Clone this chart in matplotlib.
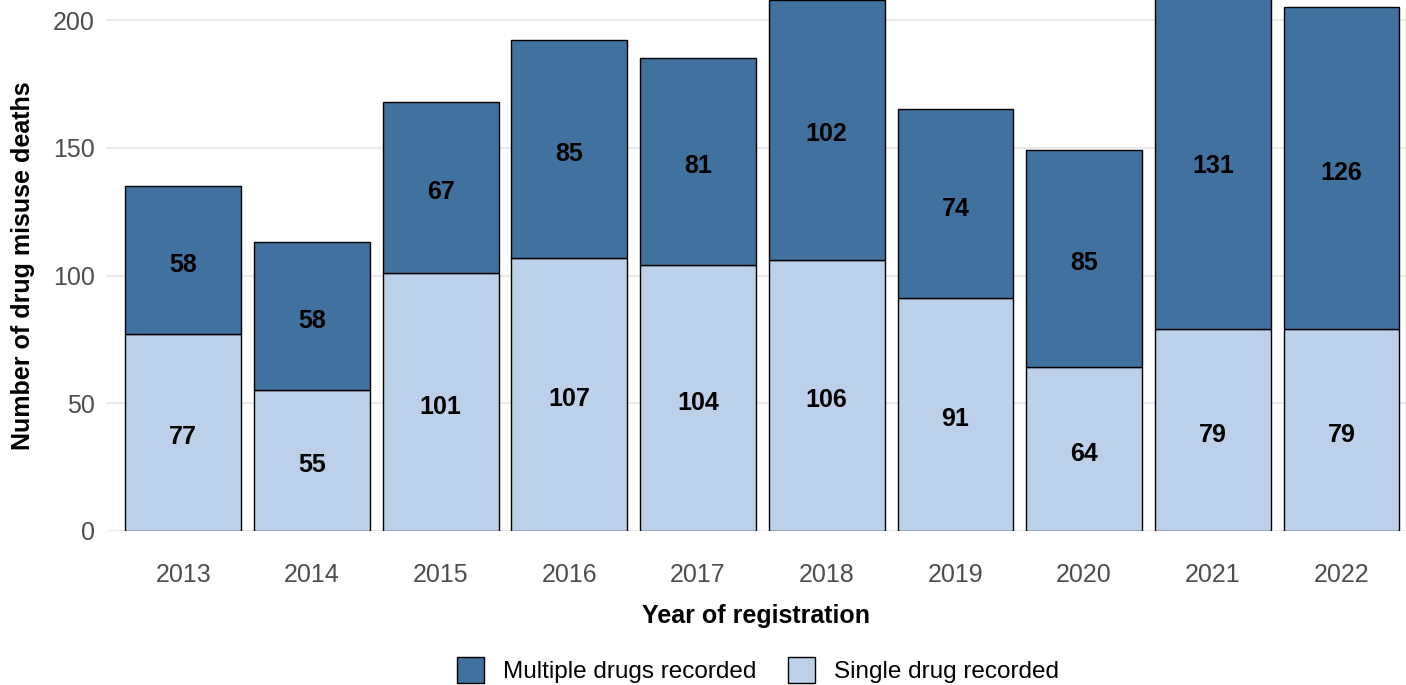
import matplotlib.pyplot as plt
from matplotlib.patches import Patch
import numpy as np

plt.rcParams['font.family'] = ['Liberation Sans', 'DejaVu Sans']

years = ['2013', '2014', '2015', '2016', '2017', '2018', '2019', '2020', '2021', '2022']
single = [77, 55, 101, 107, 104, 106, 91, 64, 79, 79]
multiple = [58, 58, 67, 85, 81, 102, 74, 85, 131, 126]

c_multi = '#41729f'
c_single = '#bdd0e9'

W, H = 1406, 685
fig = plt.figure(figsize=(W / 100, H / 100), dpi=100)
# plot panel in pixel terms: left 106, right cut at figure edge, y=0 at 531, top at 0
ax = fig.add_axes([106 / W, (H - 531) / H, (W - 106) / W, 531 / H])

x = np.arange(1, len(years) + 1)
ax.bar(x, single, width=0.9, color=c_single, edgecolor='black', linewidth=1, zorder=2)
ax.bar(x, multiple, width=0.9, bottom=single, color=c_multi, edgecolor='black',
       linewidth=1, zorder=2)

for xi, s, m in zip(x, single, multiple):
    ax.text(xi, s / 2 - 0.8, str(s), ha='center', va='center_baseline', fontsize=18,
            fontweight='bold', zorder=3)
    ax.text(xi, s + m / 2 - 0.8, str(m), ha='center', va='center_baseline', fontsize=18,
            fontweight='bold', zorder=3)

ax.set_xlim(0.4, 0.4 + (W - 106) / 128.7)
ax.set_ylim(0, 531 / 2.555)
ax.set_yticks([0, 50, 100, 150, 200])
ax.set_xticks(x)
ax.set_xticklabels(years)
ax.yaxis.grid(True, color='#ebebeb', linewidth=1.5, zorder=0)
ax.set_axisbelow(True)
for sp in ax.spines.values():
    sp.set_visible(False)
ax.tick_params(axis='both', length=0, labelsize=18, labelcolor='#4d4d4d')
ax.tick_params(axis='x', pad=23)
ax.tick_params(axis='y', pad=8)

ax.set_xlabel('Year of registration', fontsize=18, fontweight='bold', labelpad=12)
ax.set_ylabel('Number of drug misuse deaths', fontsize=18, fontweight='bold', labelpad=13)

handles = [Patch(facecolor=c_multi, edgecolor='black', label='Multiple drugs recorded'),
           Patch(facecolor=c_single, edgecolor='black', label='Single drug recorded')]
fig.legend(handles=handles, loc='center', bbox_to_anchor=(758 / W, 1 - 670 / H),
           ncol=2, frameon=False, fontsize=17.5, handlelength=1.1, handleheight=1.3,
           columnspacing=1.3, handletextpad=0.8)

fig.savefig('out.png', dpi=100)
